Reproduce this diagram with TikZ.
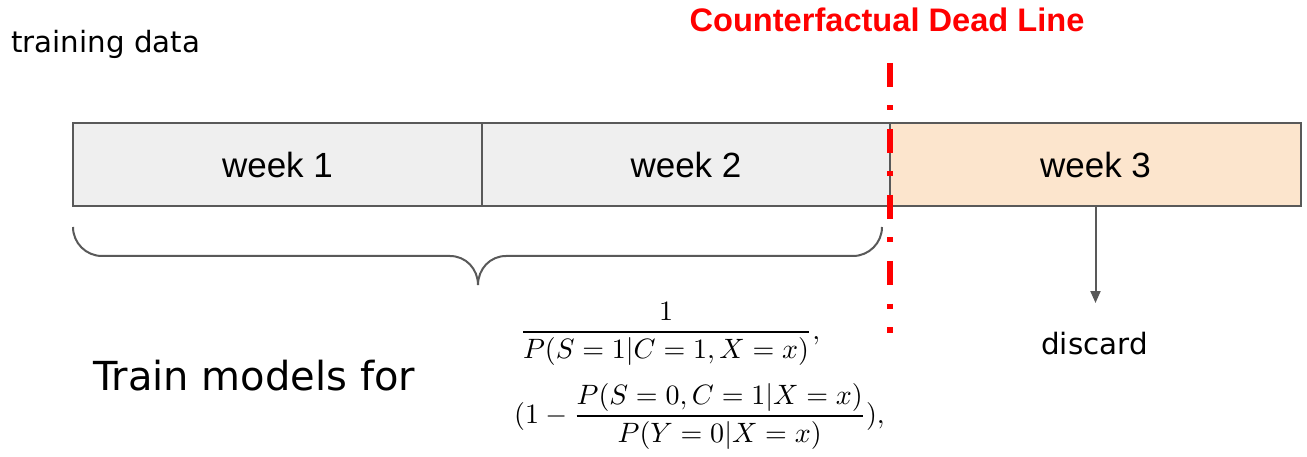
\documentclass[tikz,border=0pt]{standalone}
\usepackage{fontspec}
\usepackage{graphicx}
\usetikzlibrary{arrows.meta}
\newfontfamily\dejavu{DejaVu Sans}
\newfontfamily\libsans{Liberation Sans}
\definecolor{edgegray}{HTML}{595959}
\definecolor{boxgray}{HTML}{EFEFEF}
\definecolor{boxorange}{HTML}{FCE5CD}
\definecolor{deadred}{HTML}{FF0000}
\tikzset{
  weekbox/.style={draw=edgegray, line width=2pt, minimum width=#1, minimum height=83pt,
    inner sep=0pt, font=\libsans\fontsize{35}{42}\selectfont},
  plaintext/.style={inner sep=0pt, text=black},
  bracestyle/.style={draw=edgegray, line width=2pt},
  arr/.style={draw=edgegray, line width=2pt, -{Triangle[width=10pt,length=12pt]}},
  deadline/.style={draw=deadred, line width=6pt, line cap=butt, dash pattern=on 24pt off 18.5pt on 5pt off 18.5pt}
}
\begin{document}
\begin{tikzpicture}[x=1pt,y=-1pt]
\useasboundingbox (0,0) rectangle (1307,457);
% boxes
\node[weekbox=409pt, fill=boxgray] (w1) at (277.5,164.5) {week 1};
\node[weekbox=408pt, fill=boxgray] (w2) at (686,164.5) {week 2};
\node[weekbox=411pt, fill=boxorange] (w3) at (1095.5,164.5) {week 3};
% labels
\node[plaintext, anchor=base west, font=\dejavu\fontsize{29.3}{35}\selectfont] (td) at (11,53) {training data};
\node[plaintext, anchor=base, text=deadred, font=\libsans\bfseries\fontsize{32.6}{38}\selectfont] (title) at (887,32) {Counterfactual Dead Line};
\node[plaintext, anchor=base west, font=\dejavu\fontsize{40}{48}\selectfont] (train) at (93,390) {Train models for};
\node[plaintext, anchor=base, font=\dejavu\fontsize{29.4}{35}\selectfont] (disc) at (1094.5,354) {discard};
% formulas
\node[plaintext, anchor=base west] (f1) at (519.5,339) {\scalebox{2.8}{$\displaystyle \frac{1}{P(S=1|C=1,X=x)},$}};
\node[plaintext, anchor=base west] (f2) at (514,423) {\scalebox{2.8}{$\displaystyle (1-\frac{P(S=0,C=1|X=x)}{P(Y=0|X=x)}),$}};
% brace
\draw[bracestyle] (73,227) .. controls (73,243) and (86,256) .. (102,256)
  -- (450,256) .. controls (466,256) and (478,269) .. (478,285)
  .. controls (478,269) and (490,256) .. (506,256)
  -- (853,256) .. controls (869,256) and (882,243) .. (882,227);
% arrow to discard
\coordinate (dend) at (1095.5,303);
\draw[arr] (w3.south) -- (dend);
% dead line
\coordinate (dltop) at (890,63);
\coordinate (dlbot) at (890,333);
\draw[deadline] (dltop) -- (dlbot);
\end{tikzpicture}
\end{document}
